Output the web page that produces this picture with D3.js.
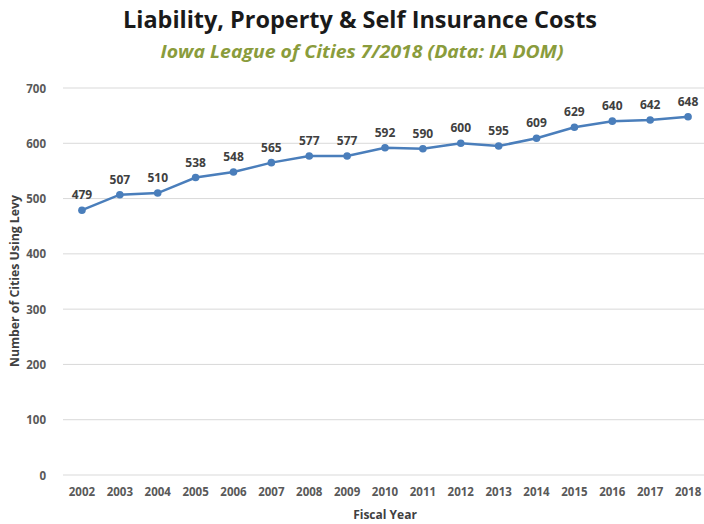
<!DOCTYPE html>
<html>
<head>
<meta charset="utf-8">
<style>
  body { margin: 0; background: #fff; }
  .grid line { stroke: #d9d9d9; stroke-width: 1; }
  .axis text { font: bold 11.5px "Open Sans", sans-serif; fill: #595959; }
  .labels text { font: bold 12px "Open Sans", sans-serif; fill: #404040; }
</style>
</head>
<body>
<script src="https://cdn.jsdelivr.net/npm/d3@7"></script>
<script>
var years = ["2002", "2003", "2004", "2005", "2006", "2007", "2008", "2009", "2010",
             "2011", "2012", "2013", "2014", "2015", "2016", "2017", "2018"];
var cities = [479, 507, 510, 538, 548, 565, 577, 577, 592, 590, 600, 595, 609, 629, 640, 642, 648];
var yTicks = [0, 100, 200, 300, 400, 500, 600, 700];

var width = 704, height = 524;
var margin = {top: 88, right: -3, bottom: 49, left: 63};

var svg = d3.select("body").append("svg")
    .attr("width", width)
    .attr("height", height);

var x = d3.scaleBand()
    .domain(years)
    .range([margin.left, width - margin.right]);

var y = d3.scaleLinear()
    .domain([0, 700])
    .range([height - margin.bottom, margin.top]);

// title
svg.append("text")
    .attr("x", 360).attr("y", 28)
    .attr("text-anchor", "middle")
    .attr("textLength", 474)
    .attr("lengthAdjust", "spacingAndGlyphs")
    .style("font", "bold 24px 'Open Sans', sans-serif")
    .style("fill", "#1a1a1a")
    .text("Liability, Property & Self Insurance Costs");

svg.append("text")
    .attr("x", 362).attr("y", 58)
    .attr("text-anchor", "middle")
    .attr("textLength", 403)
    .attr("lengthAdjust", "spacingAndGlyphs")
    .style("font", "italic bold 17px 'Open Sans', sans-serif")
    .style("fill", "#8a9c3c")
    .text("Iowa League of Cities 7/2018 (Data: IA DOM)");

// gridlines
svg.append("g")
    .attr("class", "grid")
    .selectAll("line")
    .data(yTicks)
    .enter().append("line")
    .attr("x1", margin.left)
    .attr("x2", width)
    .attr("y1", function(d) { return y(d); })
    .attr("y2", function(d) { return y(d); });

// y axis
var yAxis = svg.append("g")
    .attr("class", "axis")
    .attr("transform", "translate(" + (margin.left - 14) + ",0)")
    .call(d3.axisLeft(y).tickValues(yTicks).tickSize(0));
yAxis.select(".domain").remove();
yAxis.selectAll("text").attr("dy", "0.35em");

// x axis
var xAxis = svg.append("g")
    .attr("class", "axis")
    .attr("transform", "translate(0," + (height - margin.bottom + 10) + ")")
    .call(d3.axisBottom(x).tickSize(0));
xAxis.select(".domain").remove();

// axis titles
svg.append("text")
    .attr("x", 385).attr("y", 519)
    .attr("text-anchor", "middle")
    .style("font", "bold 12px 'Open Sans', sans-serif")
    .style("fill", "#404040")
    .text("Fiscal Year");

svg.append("text")
    .attr("transform", "translate(19,281) rotate(-90)")
    .attr("text-anchor", "middle")
    .attr("textLength", 172)
    .attr("lengthAdjust", "spacingAndGlyphs")
    .style("font", "bold 12px 'Open Sans', sans-serif")
    .style("fill", "#404040")
    .text("Number of Cities Using Levy");

var cx = function(d, i) { return x(years[i]) + x.bandwidth() / 2; };

var line = d3.line()
    .x(cx)
    .y(function(d) { return y(d); });

svg.append("path")
    .datum(cities)
    .attr("fill", "none")
    .attr("stroke", "#4a7ebb")
    .attr("stroke-width", 2.5)
    .attr("d", line);

svg.append("g")
    .selectAll("circle")
    .data(cities)
    .enter().append("circle")
    .attr("cx", cx)
    .attr("cy", function(d) { return y(d); })
    .attr("r", 3.8)
    .attr("fill", "#4a7ebb");

svg.append("g")
    .attr("class", "labels")
    .selectAll("text")
    .data(cities)
    .enter().append("text")
    .attr("x", cx)
    .attr("y", function(d) { return y(d) - 11; })
    .attr("text-anchor", "middle")
    .text(function(d) { return d; });
</script>
</body>
</html>
